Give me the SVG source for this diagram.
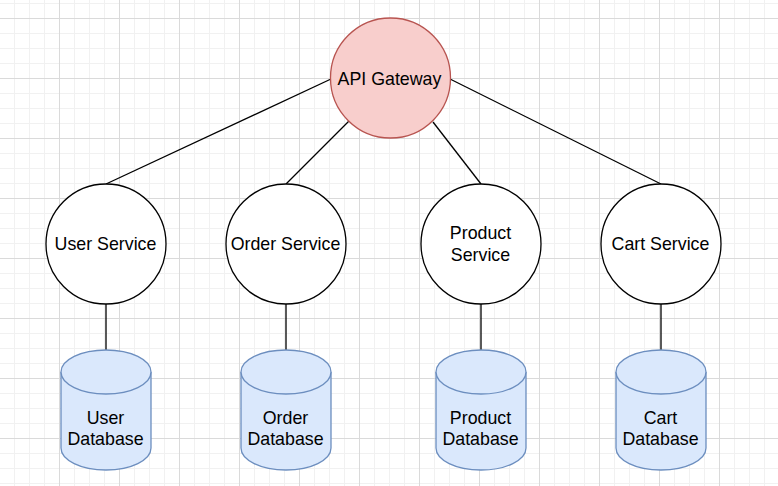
<svg xmlns="http://www.w3.org/2000/svg" width="778" height="486" viewBox="0 0 778 486">
  <defs>
    <pattern id="grid" patternUnits="userSpaceOnUse" x="59" y="18" width="60" height="60">
      <rect width="60" height="60" fill="#ffffff"/>
      <path d="M15.5 0V60M30.5 0V60M45.5 0V60M0 15.5H60M0 30.5H60M0 45.5H60" stroke="#f1f1f1" stroke-width="1" fill="none"/>
      <path d="M0.5 0V60M0 0.5H60" stroke="#dadada" stroke-width="1" fill="none"/>
    </pattern>
  </defs>
  <style>
    .svc { fill: #ffffff; stroke: #000000; stroke-width: 1.3; }
    .gw { fill: #f8cecc; stroke: #b85450; stroke-width: 1.3; }
    .db { fill: #dae8fc; stroke: #6c8ebf; stroke-width: 1.3; }
    .edge { stroke: #000000; stroke-width: 1.3; fill: none; }
    text { font-family: "Liberation Sans", Arial, sans-serif; font-size: 17.8px; fill: #000000; text-anchor: middle; }
  </style>
  <rect width="778" height="486" fill="url(#grid)"/>

  <g id="connectors">
    <line class="edge" x1="331" y1="79" x2="106" y2="184"/>
    <line class="edge" x1="349" y1="121" x2="286" y2="184"/>
    <line class="edge" x1="433" y1="122" x2="481" y2="184"/>
    <line class="edge" x1="450" y1="79" x2="661" y2="184"/>
    <line class="edge" x1="106" y1="304" x2="106" y2="350"/>
    <line class="edge" x1="286" y1="304" x2="286" y2="350"/>
    <line class="edge" x1="481" y1="304" x2="481" y2="350"/>
    <line class="edge" x1="661" y1="304" x2="661" y2="350"/>
  </g>

  <g id="api-gateway">
    <circle class="gw" cx="390.5" cy="78" r="60"/>
    <text x="389.5" y="85">API Gateway</text>
  </g>

  <g id="user-service">
    <circle class="svc" cx="106" cy="244" r="60"/>
    <text x="105.5" y="250">User Service</text>
  </g>
  <g id="order-service">
    <circle class="svc" cx="286" cy="244" r="60"/>
    <text x="285.5" y="250">Order Service</text>
  </g>
  <g id="product-service">
    <circle class="svc" cx="481" cy="244" r="60"/>
    <text x="480.5" y="239">Product</text>
    <text x="480.5" y="261">Service</text>
  </g>
  <g id="cart-service">
    <circle class="svc" cx="661" cy="244" r="60"/>
    <text x="660.5" y="250">Cart Service</text>
  </g>

  <g id="user-database">
    <path class="db" d="M61 372A45 22 0 0 1 151 372V448A45 22 0 0 1 61 448Z"/>
    <path class="db" d="M61 372A45 22 0 0 0 151 372" fill="none"/>
    <text x="105.5" y="424">User</text>
    <text x="105.5" y="445">Database</text>
  </g>
  <g id="order-database">
    <path class="db" d="M241 372A45 22 0 0 1 331 372V448A45 22 0 0 1 241 448Z"/>
    <path class="db" d="M241 372A45 22 0 0 0 331 372" fill="none"/>
    <text x="285.5" y="424">Order</text>
    <text x="285.5" y="445">Database</text>
  </g>
  <g id="product-database">
    <path class="db" d="M436 372A45 22 0 0 1 526 372V448A45 22 0 0 1 436 448Z"/>
    <path class="db" d="M436 372A45 22 0 0 0 526 372" fill="none"/>
    <text x="480.5" y="424">Product</text>
    <text x="480.5" y="445">Database</text>
  </g>
  <g id="cart-database">
    <path class="db" d="M616 372A45 22 0 0 1 706 372V448A45 22 0 0 1 616 448Z"/>
    <path class="db" d="M616 372A45 22 0 0 0 706 372" fill="none"/>
    <text x="660.5" y="424">Cart</text>
    <text x="660.5" y="445">Database</text>
  </g>
</svg>
